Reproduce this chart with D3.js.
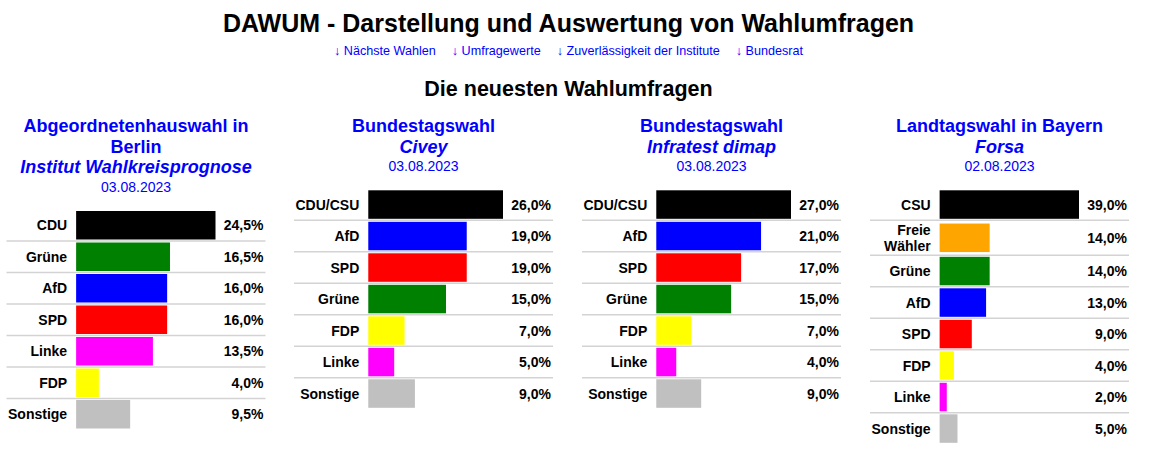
<!DOCTYPE html>
<html>
<head>
<meta charset="utf-8">
<script src="https://cdn.jsdelivr.net/npm/d3@7"></script>
<style>
  body { margin: 0; background: #fff; }
  text { font-family: "Liberation Sans", Arial, sans-serif; }
</style>
</head>
<body>
<svg id="chart" width="1154" height="457"></svg>
<script>
// data
const pageTitle = "DAWUM - Darstellung und Auswertung von Wahlumfragen"
const navLinks = ["Nächste Wahlen", "Umfragewerte", "Zuverlässigkeit der Institute", "Bundesrat"]
const sectionTitle = "Die neuesten Wahlumfragen"

const electionTitles = [["Abgeordnetenhauswahl in", "Berlin"], ["Bundestagswahl"], ["Bundestagswahl"], ["Landtagswahl in Bayern"]]
const institutes = ["Institut Wahlkreisprognose", "Civey", "Infratest dimap", "Forsa"]
const pollDates = ["03.08.2023", "03.08.2023", "03.08.2023", "02.08.2023"]

const partiesBerlin = ["CDU", "Grüne", "AfD", "SPD", "Linke", "FDP", "Sonstige"]
const valuesBerlin = [24.5, 16.5, 16.0, 16.0, 13.5, 4.0, 9.5]

const partiesCivey = ["CDU/CSU", "AfD", "SPD", "Grüne", "FDP", "Linke", "Sonstige"]
const valuesCivey = [26.0, 19.0, 19.0, 15.0, 7.0, 5.0, 9.0]

const partiesInfratest = ["CDU/CSU", "AfD", "SPD", "Grüne", "FDP", "Linke", "Sonstige"]
const valuesInfratest = [27.0, 21.0, 17.0, 15.0, 7.0, 4.0, 9.0]

const partiesBayern = ["CSU", "Freie Wähler", "Grüne", "AfD", "SPD", "FDP", "Linke", "Sonstige"]
const valuesBayern = [39.0, 14.0, 14.0, 13.0, 9.0, 4.0, 2.0, 5.0]

const partyColors = {
  "CDU": "#000000", "CSU": "#000000", "CDU/CSU": "#000000",
  "Grüne": "#008000", "AfD": "#0000ff", "SPD": "#ff0000",
  "Linke": "#ff00ff", "FDP": "#ffff00", "Freie Wähler": "#ffa500",
  "Sonstige": "#c0c0c0"
}

const polls = [
  { parties: partiesBerlin, values: valuesBerlin },
  { parties: partiesCivey, values: valuesCivey },
  { parties: partiesInfratest, values: valuesInfratest },
  { parties: partiesBayern, values: valuesBayern }
]

// layout
const midX = 568.5
const panelCenters = [136, 423.5, 711.5, 999.5]
const panelW = 259
const valueColW = 50
const rowH = 31.5, rowH2 = 35, barH = 28.5
const blue = "#0000ff"

const de = d3.formatLocale({ decimal: ",", thousands: ".", grouping: [3], currency: ["", " €"] })
const fmt = v => de.format(".1f")(v) + "%"

const svg = d3.select("#chart")
svg.append("rect").attr("width", 1154).attr("height", 457).attr("fill", "#fff")

svg.append("text")
  .attr("x", midX).attr("y", 32)
  .attr("text-anchor", "middle")
  .style("font-size", "25px").style("font-weight", "bold")
  .text(pageTitle)

// nav links, laid out after measuring
const nav = svg.append("g")
const navItems = nav.selectAll("text").data(navLinks).enter()
  .append("text")
  .attr("y", 55)
  .attr("fill", blue)
  .style("font-size", "12.6px")
  .text(d => "↓ " + d)
let widths = []
navItems.each(function() { widths.push(this.getComputedTextLength()) })
const navGap = 16
const navTotal = d3.sum(widths) + navGap * (widths.length - 1)
let cx = midX - navTotal / 2
navItems.attr("x", (d, i) => {
  const x = cx
  cx += widths[i] + navGap
  return x
})

svg.append("text")
  .attr("x", midX).attr("y", 95.5)
  .attr("text-anchor", "middle")
  .style("font-size", "21.5px").style("font-weight", "bold")
  .text(sectionTitle)

polls.forEach((poll, p) => {
  const g = svg.append("g")
  const cxp = panelCenters[p]
  const x0 = cxp - panelW / 2
  const x1 = cxp + panelW / 2

  // header
  const lines = electionTitles[p].concat([institutes[p]])
  lines.forEach((t, i) => {
    g.append("text")
      .attr("x", cxp).attr("y", 132 + i * 20.7)
      .attr("text-anchor", "middle")
      .attr("fill", blue)
      .style("font-size", "18px").style("font-weight", "bold")
      .style("font-style", i == lines.length - 1 ? "italic" : "normal")
      .text(t)
  })
  const dateY = 132 + (lines.length - 1) * 20.7 + 18.3
  g.append("text")
    .attr("x", cxp).attr("y", dateY)
    .attr("text-anchor", "middle")
    .attr("fill", blue)
    .style("font-size", "14px")
    .text(pollDates[p])

  // label column width from longest label line
  const probe = g.append("text").style("font-size", "14px").style("font-weight", "bold")
  let maxW = 0
  poll.parties.forEach(name => {
    name.split(" ").forEach(part => {
      probe.text(part)
      maxW = Math.max(maxW, probe.node().getComputedTextLength())
    })
  })
  probe.remove()
  const labelColW = maxW + 10.5
  const barX = x0 + labelColW
  const barColW = panelW - labelColW - valueColW

  const x = d3.scaleLinear()
    .domain([0, d3.max(poll.values)])
    .range([0, barColW])

  // row positions
  const heights = poll.parties.map(n => n.includes(" ") ? rowH2 : rowH)
  const tops = []
  let y = dateY + 17.8
  heights.forEach(h => { tops.push(y); y += h })

  const rows = g.selectAll(".row").data(poll.parties).enter()
    .append("g").attr("class", "row")
    .attr("transform", (d, i) => `translate(0,${tops[i]})`)

  rows.filter((d, i) => i > 0)
    .append("line")
    .attr("x1", x0).attr("x2", x1)
    .attr("y1", 0).attr("y2", 0)
    .attr("stroke", "#d3d3d3").attr("stroke-width", 1.5)

  rows.append("rect")
    .attr("x", barX)
    .attr("y", (d, i) => (heights[i] - barH) / 2)
    .attr("width", (d, i) => x(poll.values[i]))
    .attr("height", barH)
    .attr("fill", d => partyColors[d])

  rows.each(function(d, i) {
    const row = d3.select(this)
    const parts = d.split(" ")
    const mid = heights[i] / 2
    parts.forEach((part, k) => {
      row.append("text")
        .attr("x", barX - 9)
        .attr("y", mid + 5 + (k - (parts.length - 1) / 2) * 16)
        .attr("text-anchor", "end")
        .style("font-size", "14px").style("font-weight", "bold")
        .text(part)
    })
    row.append("text")
      .attr("x", x1 - 2)
      .attr("y", mid + 5)
      .attr("text-anchor", "end")
      .style("font-size", "14px").style("font-weight", "bold")
      .text(fmt(poll.values[i]))
  })
})
</script>
</body>
</html>
